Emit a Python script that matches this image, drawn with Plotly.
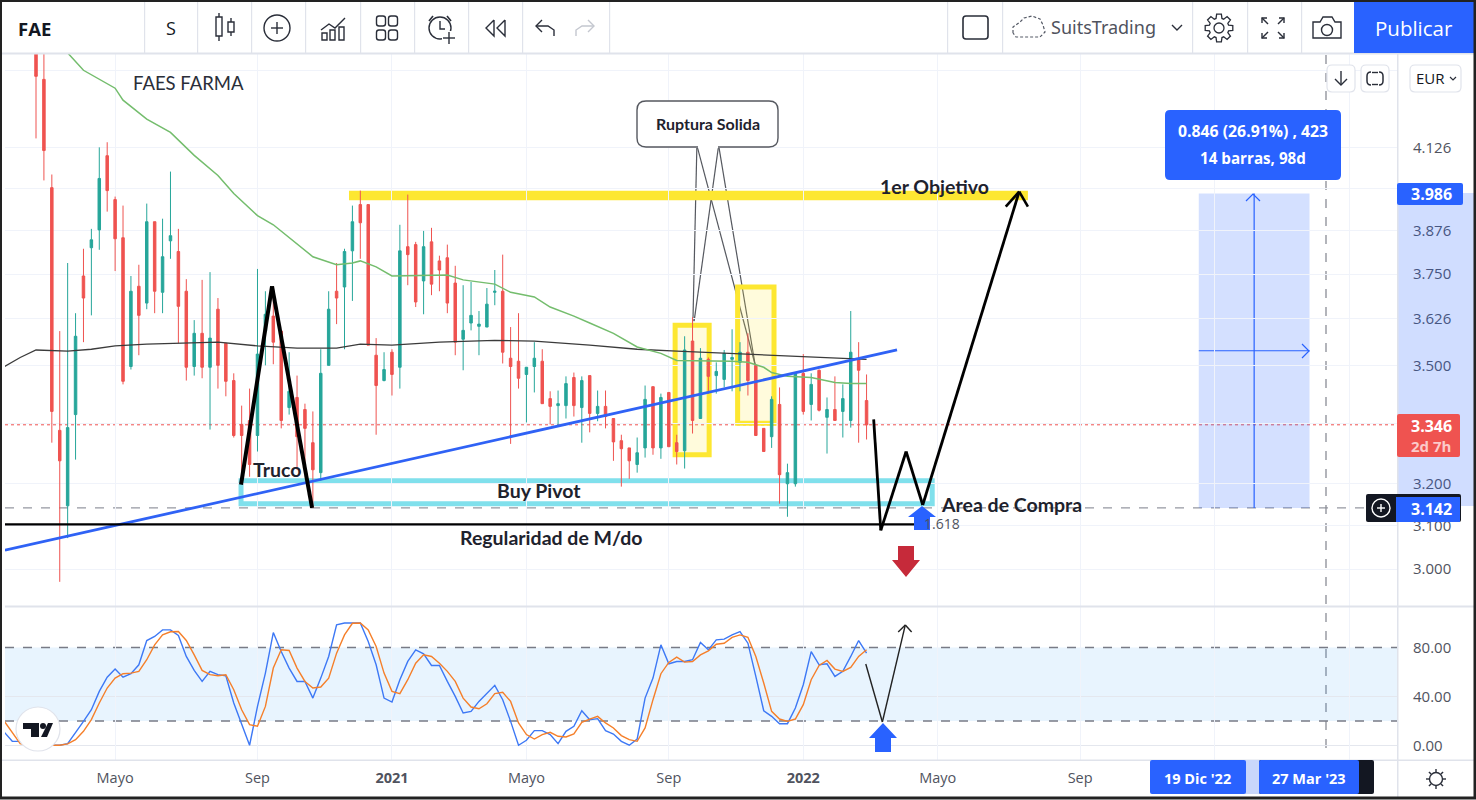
import math
import pandas as pd
import plotly.graph_objects as go

W, H = 1476, 800

# ---------- weekly price data (EUR), first bar 2020-02-24 ----------
FIRST_BAR = "2020-02-24"
opens = [4.60,4.346,4.004,3.332,3.147,3.372,3.745,3.826,3.878,4.102,
 3.968,3.855,3.497,3.716,3.669,3.902,3.699,3.846,3.815,3.702,
 3.497,3.586,3.495,3.652,3.559,3.460,3.347,3.357,3.319,3.592,
 3.633,3.592,3.390,3.416,3.385,3.301,3.227,3.500,3.702,3.714,
 3.817,3.953,3.953,3.527,3.460,3.535,3.495,3.829,3.835,3.731,
 3.843,3.788,3.797,3.725,3.570,3.614,3.605,3.603,3.699,3.702,
 3.519,3.511,3.476,3.497,3.511,3.413,3.395,3.395,3.468,3.390,
 3.473,3.375,3.393,3.362,3.306,3.288,3.247,3.288,3.444,3.288,
 3.429,3.301,3.281,3.565,3.362,3.516,3.473,3.463,3.516,3.508,
 3.535,3.500,3.337,3.316,3.398,3.200,3.200,3.479,3.398,3.487,
 3.365,3.385,3.380,3.357,3.516,3.408]
highs = [4.70,4.60,4.044,3.592,3.782,3.641,3.823,3.881,4.128,4.144,
 3.977,3.950,3.745,3.777,3.956,3.902,3.911,4.053,3.881,3.736,
 3.622,3.734,3.756,3.683,3.559,3.479,3.395,3.439,3.765,3.702,
 3.705,3.592,3.535,3.473,3.400,3.380,3.543,3.702,3.782,3.823,
 3.950,3.995,3.953,3.573,3.535,3.543,3.893,3.983,3.843,3.875,
 3.884,3.803,3.835,3.774,3.719,3.728,3.647,3.711,3.762,3.806,
 3.603,3.641,3.495,3.562,3.543,3.432,3.434,3.471,3.481,3.471,
 3.473,3.434,3.434,3.362,3.321,3.288,3.314,3.447,3.444,3.426,
 3.429,3.321,3.578,3.630,3.546,3.521,3.508,3.541,3.597,3.562,
 3.586,3.503,3.337,3.419,3.442,3.249,3.479,3.530,3.479,3.489,
 3.416,3.471,3.450,3.647,3.562,3.476]
lows = [4.156,4.026,3.301,2.971,3.071,3.259,3.562,3.635,3.820,3.932,
 3.759,3.450,3.489,3.527,3.652,3.641,3.641,3.794,3.559,3.460,
 3.473,3.466,3.334,3.439,3.419,3.314,3.209,3.217,3.279,3.500,
 3.503,3.337,3.372,3.234,3.242,3.142,3.207,3.500,3.611,3.543,
 3.675,3.794,3.554,3.321,3.458,3.421,3.439,3.719,3.658,3.638,
 3.691,3.702,3.641,3.527,3.487,3.594,3.527,3.603,3.663,3.505,
 3.298,3.439,3.352,3.429,3.400,3.347,3.342,3.362,3.367,3.301,
 3.327,3.355,3.337,3.256,3.193,3.212,3.227,3.264,3.271,3.261,
 3.291,3.247,3.237,3.324,3.362,3.426,3.426,3.442,3.432,3.432,
 3.421,3.319,3.279,3.288,3.152,3.121,3.193,3.372,3.357,3.380,
 3.274,3.357,3.314,3.339,3.301,3.309]
closes = [4.356,4.118,3.380,3.256,3.339,3.578,3.683,3.849,4.032,3.995,
 3.852,3.458,3.702,3.635,3.902,3.702,3.800,3.861,3.660,3.495,
 3.586,3.495,3.573,3.500,3.458,3.319,3.319,3.247,3.530,3.638,
 3.562,3.357,3.432,3.316,3.337,3.234,3.479,3.652,3.683,3.815,
 3.902,3.899,3.554,3.447,3.489,3.476,3.817,3.806,3.672,3.829,
 3.722,3.762,3.669,3.562,3.594,3.635,3.611,3.666,3.702,3.535,
 3.497,3.466,3.495,3.519,3.400,3.393,3.400,3.452,3.395,3.460,
 3.375,3.393,3.367,3.303,3.286,3.256,3.276,3.411,3.288,3.416,
 3.291,3.279,3.541,3.357,3.519,3.471,3.484,3.532,3.521,3.535,
 3.460,3.319,3.279,3.411,3.222,3.227,3.479,3.380,3.450,3.383,
 3.385,3.357,3.413,3.535,3.487,3.346]

# slower moving average (black): bar number, price
long_ma_bars = [-4,-2,0,4,7,10,14,18,23,28,33,38,41,45,51,58,63,70,76,81,93,99,105]
long_ma = [3.497,3.521,3.541,3.538,3.543,3.552,3.557,3.559,3.562,3.552,3.546,3.546,3.557,3.554,
           3.562,3.567,3.565,3.554,3.543,3.538,3.527,3.521,3.516]
# faster moving average (green)
mid_ma_bars = [4,6,10,11,14,17,20,23,25,28,30,33,35,38,40,41,43,45,52,54,57,58,60,63,65,68,70,73,
               76,77,79,81,83,88,90,92,93,95,98,101,103,105]
mid_ma = [4.434,4.376,4.317,4.278,4.217,4.175,4.103,4.041,3.986,3.920,3.893,3.838,3.800,3.777,
          3.782,3.788,3.771,3.745,3.748,3.734,3.725,3.722,3.699,3.686,3.658,3.633,3.614,3.586,
          3.549,3.543,3.532,3.513,3.513,3.511,3.508,3.495,3.481,3.471,3.468,3.455,3.452,3.452]

# stochastic, weekly, starts 4 bars before the first visible candle
STOCH_FIRST_BAR = -4
stoch_k = [10.8,3.4,3.4,0.2,0.2,0.2,0.2,0.2,1.5,10.2,19.7,29.2,44.2,55.8,62.4,55.8,58.6,65.9,85.7,89.0,
 94.4,94.4,89.8,72.7,61.3,52.3,60.5,57.8,56.9,34.7,17.0,0.2,31.9,59.1,92.2,76.7,63.2,52.3,52.3,38.7,
 55.0,72.7,98.5,100,100,100,84.9,65.9,38.7,35.5,53.7,68.6,78.1,74.8,65.3,65.3,52.3,40.1,26.5,27.9,
 36.0,42.8,49.1,37.4,19.7,0.2,4.3,12.1,12.1,8.9,1.5,11.6,15.7,28.4,21.1,21.9,12.1,9.4,3.4,0.2,
 5.3,38.7,55.0,82.2,66.7,68.6,68.6,70.0,84.1,78.1,86.2,86.8,90.3,93.0,83.5,56.4,28.4,23.8,17.8,17.8,
 30.6,49.6,76.7,65.9,66.7,56.4,60.5,72.7,85.7,75.4]
stoch_d = [19.7,10.2,1.5,0.2,0.2,0.2,0.2,0.2,1.3,4.8,11.6,21.1,34.7,46.9,55.0,58.6,59.1,60.5,70.0,82.2,
 90.3,92.8,93.0,85.7,74.0,61.3,57.8,56.9,57.8,45.5,29.2,17.0,15.7,31.9,63.2,78.1,77.6,63.2,52.3,46.9,
 47.7,55.0,75.4,90.3,99.8,100,94.4,80.8,59.1,44.2,42.3,53.7,67.2,74.0,72.7,67.2,60.5,52.3,38.7,31.4,
 30.0,34.1,42.3,43.4,36.0,18.4,8.9,5.3,8.9,10.8,7.5,7.0,9.4,18.9,21.6,23.8,18.4,14.3,8.1,4.8,
 3.4,14.3,37.4,58.6,67.8,72.1,68.1,68.6,74.0,77.3,82.7,83.5,88.2,90.3,88.4,72.7,51.0,27.9,21.6,19.7,
 21.6,33.3,53.7,65.3,69.4,62.4,60.5,63.7,72.7,78.1]

# axis ticks
time_ticks = ["2020-05-04","2020-09-07","2021-01-04","2021-05-03","2021-09-06","2022-01-03",
              "2022-05-02","2022-09-05","2023-01-02","2023-05-01"]
time_labels = ["Mayo","Sep","<b>2021</b>","Mayo","Sep","<b>2022</b>","Mayo","Sep","",""]
price_ticks = [3.0,3.1,3.2,3.35,3.5,3.626,3.75,3.876,4.0,4.126,4.376]
price_labels = ["3.000","3.100","3.200","","3.500","3.626","3.750","3.876","","4.126",""]
stoch_ticks = [0,40,80]
stoch_labels = ["0.00","40.00","80.00"]

# trader's drawings: (bar number, price)
last_price = 3.346
long_tool = dict(start=147, end=161, entry=3.142, target=3.986)
trend = [(-3.92,3.043),(108.85,3.541)]
objective = [(39.57,3.980),(125.4,3.980)]
support = [(-3.92,3.103),(111.1,3.103)]
pivot_box = [(25.92,3.207),(113.3,3.152)]
zig_left = [(25.92,3.198),(29.84,3.716),(34.9,3.142)]
zig_right = [(105.9,3.360),(106.8,3.089),(110.0,3.279),(112.1,3.149),(124.3,3.992)]
zig_head = [(122.6,3.947),(124.3,3.992),(125.4,3.947)]
box_one = [(80.8,3.608),(85.1,3.271)]
box_two = [(88.7,3.714),(93.3,3.350)]
callout_lines = [((83.55,4.134),(83.05,3.619)),((86.3,4.134),(83.2,3.619)),
                 ((83.55,4.134),(90.9,3.503)),((86.3,4.134),(90.9,3.503))]
stoch_path = [(104.9,66.5),(107.0,19.2),(109.9,98.4)]
stoch_head = [(109.0,92.6),(109.9,98.4),(110.7,92.6)]

# ---------- helpers ----------
def bar(i):
    return (pd.Timestamp(FIRST_BAR) + pd.Timedelta(days=7 * i)).isoformat()

def fx(x): return x / W
def fy(y): return 1 - y / H

shapes, notes = [], []

def seg(a, b, color, width, layer="above", dash=None, yref="y"):
    shapes.append(dict(type="line", xref="x", yref=yref, x0=bar(a[0]), y0=a[1], x1=bar(b[0]), y1=b[1],
                       line=dict(color=color, width=width, dash=dash), layer=layer))

def polyline(pts, color, width, layer="above", yref="y"):
    for a, b in zip(pts, pts[1:]):
        seg(a, b, color, width, layer, yref=yref)

def data_rect(c, color, width, fill, layer="below"):
    shapes.append(dict(type="rect", xref="x", yref="y", x0=bar(c[0][0]), y0=c[0][1], x1=bar(c[1][0]), y1=c[1][1],
                       line=dict(color=color, width=width), fillcolor=fill, layer=layer))

def rect(x0, y0, x1, y1, fill=None, line=None, width=1, layer="above"):
    shapes.append(dict(type="rect", xref="paper", yref="paper", x0=fx(x0), y0=fy(y0), x1=fx(x1), y1=fy(y1),
                       fillcolor=fill or "rgba(0,0,0,0)", line=dict(color=line or "rgba(0,0,0,0)", width=width if line else 0),
                       layer=layer))

def rrect(x0, y0, x1, y1, r, fill=None, line=None, width=1, layer="above"):
    pts = "M{},{} L{},{} Q{},{} {},{} L{},{} Q{},{} {},{} L{},{} Q{},{} {},{} L{},{} Q{},{} {},{} Z".format(
        fx(x0+r),fy(y0),fx(x1-r),fy(y0),fx(x1),fy(y0),fx(x1),fy(y0+r),fx(x1),fy(y1-r),fx(x1),fy(y1),fx(x1-r),fy(y1),
        fx(x0+r),fy(y1),fx(x0),fy(y1),fx(x0),fy(y1-r),fx(x0),fy(y0+r),fx(x0),fy(y0),fx(x0+r),fy(y0))
    shapes.append(dict(type="path", xref="paper", yref="paper", path=pts, fillcolor=fill or "rgba(0,0,0,0)",
                       line=dict(color=line or "rgba(0,0,0,0)", width=width if line else 0), layer=layer))

def path(pts, color=None, width=1.5, fill=None, close=False, dash=None):
    d = "M" + " L".join(f"{fx(x)},{fy(y)}" for x, y in pts) + (" Z" if close else "")
    shapes.append(dict(type="path", xref="paper", yref="paper", path=d, fillcolor=fill or "rgba(0,0,0,0)",
                       line=dict(color=color or "rgba(0,0,0,0)", width=width if color else 0, dash=dash)))

def circle(cx, cy, r, color=None, width=1.5, fill=None):
    shapes.append(dict(type="circle", xref="paper", yref="paper", x0=fx(cx-r), x1=fx(cx+r), y0=fy(cy-r), y1=fy(cy+r),
                       fillcolor=fill or "rgba(0,0,0,0)", line=dict(color=color or "rgba(0,0,0,0)", width=width if color else 0)))

def txt(x, y, s, size=14, color="#131722", anchor="center", font="Open Sans"):
    notes.append(dict(xref="paper", yref="paper", x=fx(x), y=fy(y), text=s, showarrow=False, xanchor=anchor,
                      yanchor="middle", font=dict(size=size, color=color, family=font), borderpad=0, borderwidth=0))

INK = "#2a2e39"
GRID = "#f0f3fa"
EDGE = "#e0e3eb"
BLUE = "#2962ff"
RED = "#ef5350"
TEAL = "#26a69a"
LABEL = "#50535e"

# ---------- traces ----------
dates = [bar(i) for i in range(len(closes))]
fig = go.Figure()
fig.add_trace(go.Candlestick(x=dates, open=opens, high=highs, low=lows, close=closes,
    increasing=dict(line=dict(color=TEAL, width=1), fillcolor=TEAL),
    decreasing=dict(line=dict(color=RED, width=1), fillcolor=RED),
    whiskerwidth=0, hoverinfo="skip", xaxis="x", yaxis="y"))
fig.add_trace(go.Scatter(x=[bar(i) for i in long_ma_bars], y=long_ma, mode="lines",
    line=dict(color="#3b3b3b", width=1.3), hoverinfo="skip", xaxis="x", yaxis="y"))
fig.add_trace(go.Scatter(x=[bar(i) for i in mid_ma_bars], y=mid_ma, mode="lines",
    line=dict(color="#74bd6d", width=1.5), hoverinfo="skip", xaxis="x", yaxis="y"))
stoch_dates = [bar(STOCH_FIRST_BAR + i) for i in range(len(stoch_k))]
fig.add_trace(go.Scatter(x=stoch_dates, y=stoch_k, mode="lines", line=dict(color="#3d78f5", width=1.4),
    hoverinfo="skip", xaxis="x2", yaxis="y2"))
fig.add_trace(go.Scatter(x=stoch_dates, y=stoch_d, mode="lines", line=dict(color="#f57f2a", width=1.4),
    hoverinfo="skip", xaxis="x2", yaxis="y2"))

# ---------- chart drawings ----------
# long-position tool
shapes.append(dict(type="rect", xref="x", yref="y", x0=bar(long_tool["start"]), x1=bar(long_tool["end"]),
                   y0=long_tool["entry"], y1=long_tool["target"], fillcolor="rgba(41,98,255,0.2)",
                   line=dict(width=0), layer="below"))
mid_x = (long_tool["start"] + long_tool["end"]) / 2
mid_y = math.sqrt(long_tool["entry"] * long_tool["target"])
seg((mid_x, long_tool["entry"]), (mid_x, long_tool["target"]), BLUE, 1.2, layer="below")
seg((long_tool["start"], mid_y), (long_tool["end"], mid_y), BLUE, 1.2, layer="below")
path([(1246,201),(1253,194),(1260,201)], BLUE, 1.2)
path([(1302,344),(1309,351),(1302,358)], BLUE, 1.2)
rect(1397, 193, 1475, 506, fill="rgba(41,98,255,0.22)")

# level lines
shapes.append(dict(type="line", xref="paper", yref="y", x0=fx(5), x1=fx(1397), y0=last_price, y1=last_price,
                   line=dict(color=RED, width=1, dash="dot"), layer="below"))
shapes.append(dict(type="line", xref="paper", yref="y", x0=fx(5), x1=fx(1397), y0=long_tool["entry"], y1=long_tool["entry"],
                   line=dict(color="#9598a1", width=1.3, dash="dash"), layer="below"))
shapes.append(dict(type="line", xref="paper", yref="paper", x0=fx(1326), x1=fx(1326), y0=fy(55), y1=fy(755),
                   line=dict(color="#8a8d96", width=1.3, dash="dash"), layer="below"))

# stochastic band and its grid (the grid sits beneath the dashed levels)
shapes.append(dict(type="rect", xref="paper", yref="y2", x0=fx(5), x1=fx(1397), y0=20, y1=80,
                   fillcolor="rgba(33,150,243,0.1)", line=dict(width=0), layer="below"))
for lvl in (0, 40):
    shapes.append(dict(type="line", xref="paper", yref="y2", x0=fx(5), x1=fx(1397), y0=lvl, y1=lvl,
                       line=dict(color="#e4e7ee", width=1.2), layer="below"))
for lvl in (20, 80):
    shapes.append(dict(type="line", xref="paper", yref="y2", x0=fx(5), x1=fx(1397), y0=lvl, y1=lvl,
                       line=dict(color="#787b86", width=1.3, dash="dash"), layer="below"))

# callout lines, then the yellow bar over them
for a, b in callout_lines:
    seg(a, b, "#55585f", 1.2, layer="below")
data_rect(box_one, "#fde731", 5, "rgba(255,235,59,0.18)")
data_rect(box_two, "#fde731", 5, "rgba(255,235,59,0.18)")
data_rect(pivot_box, "#80e0ec", 5, "rgba(0,0,0,0)")
seg(objective[0], objective[1], "#fde731", 9.5, layer="below")
seg(trend[0], trend[1], "#2f62f5", 2.8)
seg(support[0], support[1], "#000000", 2.4)
polyline(zig_left, "#000000", 4)
polyline(zig_right, "#000000", 2.8)
polyline(zig_head, "#000000", 2.6)
polyline(stoch_path, "#222222", 1.4, yref="y2")
polyline(stoch_head, "#222222", 1.4, yref="y2")

# big arrows
def up_arrow(cx, tip, wing, bottom):
    path([(cx,tip),(cx+14,wing),(cx+8,wing),(cx+8,bottom),(cx-8,bottom),(cx-8,wing),(cx-14,wing)], fill=BLUE, close=True)
up_arrow(922, 506, 517, 530)
up_arrow(883, 723, 738, 752)
path([(898,546),(914,546),(914,560),(920,560),(906,577),(892,560),(898,560)], fill="#c62a3a", close=True)

# callout box
rrect(637, 101, 778, 147, 9, fill="#ffffff", line="#55585f", width=1.4)
rect(698, 145.8, 718, 148.2, fill="#ffffff")
txt(708, 123, "<b>Ruptura Solida</b>", 16, "#1e222d", font="Lato")

# pane furniture
rect(0, 0, W, 53, fill="#ffffff")
rect(0, 52.5, W, 54.5, fill=EDGE)
rect(5, 605.5, 1474, 607.5, fill=EDGE)
rect(0, 759.5, 1474, 761, fill=EDGE)
rect(1397, 54, 1398.5, 798, fill=EDGE)

# date tags
rect(1245, 760, 1260, 794, fill="#c9d7fb")
rrect(1150, 760, 1246, 794, 2, fill=BLUE)
rrect(1259, 760, 1374, 794, 2, fill="#131722")
rrect(1259, 760, 1359, 794, 2, fill=BLUE)
txt(1197, 778, "<b>19 Dic '22</b>", 14.5, "#ffffff")
txt(1309, 778, "<b>27 Mar '23</b>", 14.5, "#ffffff")

# price tags
rrect(1397, 183, 1463, 205, 2, fill=BLUE)
txt(1431, 194, "<b>3.986</b>", 16, "#ffffff")
rrect(1397, 414, 1460, 457, 2, fill=RED)
txt(1431, 426, "<b>3.346</b>", 16, "#ffffff")
txt(1431, 446, "<b>2d 7h</b>", 15, "#fbcaca")
rrect(1366, 494, 1461, 522, 2, fill="#131722")
rect(1396, 497, 1460, 522, fill=BLUE)
txt(1431, 509, "<b>3.142</b>", 16, "#ffffff")
circle(1381, 508, 9, "#ffffff", 1.4)
path([(1377,508),(1385,508)], "#ffffff", 1.4)
path([(1381,504),(1381,512)], "#ffffff", 1.4)

# floating buttons
for x0, x1 in ((1327,1355),(1361,1389),(1410,1461)):
    rrect(x0, 65, x1, 92, 5, fill="#ffffff", line=EDGE, width=1.2)
path([(1341,71),(1341,85)], INK, 1.4)
path([(1335,79),(1341,85),(1347,79)], INK, 1.4)
rrect(1367, 72, 1383, 85, 4, line=INK, width=1.5)
rect(1371, 70, 1379, 74, fill="#ffffff")
rect(1371, 83, 1379, 87, fill="#ffffff")
path([(1372,72.5),(1378,72.5)], INK, 1.4)
path([(1372,84.5),(1378,84.5)], INK, 1.4)
txt(1416, 78, "EUR", 15, "#131722", anchor="left")
path([(1450,77),(1453,80),(1456,77)], INK, 1.2)

# TradingView badge
circle(38, 729, 22, EDGE, 1.2, "#ffffff")
path([(23,723),(39,723),(39,737),(31,737),(31,729),(23,729)], fill="#131722", close=True)
circle(43, 726, 3, fill="#131722")
path([(48,723),(53,723),(47,737),(41,737)], fill="#131722", close=True)

# ---------- toolbar ----------
for x in (144,197,251,305,360,414,468,522,609,947,1002,1192,1247,1301):
    rect(x, 2, x+1.2, 53, fill=EDGE)
rect(1354, 2, 1474, 53, fill=BLUE)
txt(1414, 28, "Publicar", 20.5, "#ffffff")
txt(34, 28, "<b>FAE</b>", 18.5, "#131722")
txt(171, 28, "S", 18, "#131722")
# candles
rect(216, 17, 222, 36, line=INK, width=1.4)
path([(219,13),(219,17)], INK, 1.4); path([(219,36),(219,41)], INK, 1.4)
rect(228, 22, 234, 32, line=INK, width=1.4)
path([(231,18),(231,22)], INK, 1.4); path([(231,32),(231,36)], INK, 1.4)
# add
circle(277, 28, 13, INK, 1.4)
path([(271,28),(283,28)], INK, 1.4); path([(277,22),(277,34)], INK, 1.4)
# indicators
path([(321,30),(329,24),(335,28),(345,18)], INK, 1.4)
rect(322, 33, 327, 40, line=INK, width=1.4)
rect(330, 30, 335, 40, line=INK, width=1.4)
rect(339, 27, 344, 40, line=INK, width=1.4)
# layouts
for cx in (381, 393):
    for cy in (21, 35):
        rrect(cx-4.5, cy-5, cx+4.5, cy+5, 2.5, line=INK, width=1.4)
# alarm
circle(440, 28, 11, INK, 1.4)
path([(440,21),(440,29),(445,29)], INK, 1.4)
path([(429,21),(433,16)], INK, 1.6); path([(447,16),(451,21)], INK, 1.6)
rect(442, 31, 456, 43, fill="#ffffff")
path([(443,38),(455,38)], INK, 1.4); path([(449,32),(449,44)], INK, 1.4)
# replay
path([(494,20),(486,28),(494,36),(494,20)], INK, 1.4)
path([(505,20),(497,28),(505,36),(505,20)], INK, 1.4)
# undo / redo
path([(542,20),(536,26),(542,32)], INK, 1.4)
path([(536,26),(548,26),(554,30),(554,36)], INK, 1.4)
path([(588,20),(594,26),(588,32)], "#c4c7cf", 1.4)
path([(594,26),(582,26),(576,30),(576,36)], "#c4c7cf", 1.4)
# drawing square, cloud
rrect(963, 16, 988, 39, 3, line=INK, width=1.6)
path([(1013,33),(1013,27),(1020,22),(1024,18),(1032,16),(1040,19),(1043,25),(1045,32),(1040,37),(1016,37),(1013,33)],
     "#555a66", 1.2, dash="3px,2px")
txt(1103, 27, "SuitsTrading", 18, LABEL, font="Noto Sans")
path([(1172,25),(1177,30),(1182,25)], INK, 1.4)
# gear
gear = []
for k in range(8):
    a = k * math.pi / 4
    for da, r in ((-0.3, 10), (-0.17, 14), (0.17, 14), (0.3, 10)):
        gear.append((1219 + r * math.cos(a + da), 28 + r * math.sin(a + da)))
path(gear, INK, 1.3, close=True)
circle(1219, 28, 5, INK, 1.3)
# fullscreen
for sx, sy in ((-1,-1),(1,-1),(-1,1),(1,1)):
    cx, cy = 1273 + sx * 11, 28 + sy * 10
    path([(cx, cy - sy * 5),(cx, cy),(cx - sx * 5, cy)], INK, 1.4)
    path([(cx, cy),(cx - sx * 6, cy - sy * 6)], INK, 1.4)
# camera
path([(1313,22),(1320,22),(1323,17),(1332,17),(1335,22),(1341,22),(1341,38),(1313,38)], INK, 1.4, close=True)
circle(1327, 30, 5.5, INK, 1.4)

# outer frame
rect(0.5, 0.5, 1475, 798, line="#222222", width=3)

# ---------- text labels ----------
txt(188, 83, "FAES FARMA", 18.5, "#2a2e39", font="Lato")
txt(934.5, 186, "<b>1er Objetivo</b>", 19.5, "#1e222d", font="Lato")
txt(277, 469, "<b>Truco</b>", 19.5, "#1e222d", font="Lato")
txt(539, 490, "<b>Buy Pivot</b>", 19.5, "#1e222d", font="Lato")
txt(1011.5, 504, "<b>Area de Compra</b>", 19.5, "#1e222d", font="Lato")
txt(550.5, 537, "<b>Regularidad de M/do</b>", 19.5, "#1e222d", font="Lato")
txt(960, 523, "1.618", 14, "#50535e", anchor="right")
rrect(1165, 110, 1341, 180, 5, fill=BLUE)
txt(1253, 131, "<b>0.846 (26.91%) , 423</b>", 15.8, "#ffffff")
txt(1253, 158, "<b>14 barras, 98d</b>", 15.2, "#ffffff")

# sun icon in the corner
circle(1436, 779, 6.5, INK, 1.4)
for k in range(8):
    a = k * math.pi / 4
    path([(1436 + 7 * math.cos(a), 779 + 7 * math.sin(a)), (1436 + 10 * math.cos(a), 779 + 10 * math.sin(a))], INK, 1.4)

# ---------- axes ----------
axis_range = [bar(-3.92), bar(172.06)]
fig.update_layout(
    width=W, height=H, margin=dict(l=0, r=0, t=0, b=0, pad=0),
    paper_bgcolor="#ffffff", plot_bgcolor="#ffffff", showlegend=False, boxgap=0.55,
    font=dict(family="Open Sans", size=14, color=LABEL),
    shapes=shapes, annotations=notes, hovermode=False,
    xaxis=dict(domain=[fx(5), fx(1397)], type="date", range=axis_range, anchor="y", rangeslider=dict(visible=False),
               tickvals=time_ticks, showticklabels=False, ticks="", showgrid=True, gridcolor=GRID, gridwidth=1.2, zeroline=False),
    yaxis=dict(domain=[fy(606), fy(54)], type="log", range=[0.46496, 0.64643], anchor="x", side="right",
               tickvals=price_ticks, ticktext=price_labels, showgrid=True, gridcolor=GRID, gridwidth=1.2,
               ticks="outside", ticklen=12, tickcolor="rgba(0,0,0,0)", zeroline=False, tickfont=dict(size=15, color=LABEL)),
    xaxis2=dict(domain=[fx(5), fx(1397)], type="date", range=axis_range, anchor="y2", matches="x",
                tickvals=time_ticks, ticktext=time_labels, showgrid=True, gridcolor=GRID, gridwidth=1.2,
                ticks="outside", ticklen=5, tickcolor="rgba(0,0,0,0)", tickangle=0, zeroline=False,
                tickfont=dict(size=14.5, color=LABEL)),
    yaxis2=dict(domain=[fy(760), fy(607)], range=[-11.84, 113.06], anchor="x2", side="right",
                tickvals=stoch_ticks, ticktext=stoch_labels, showgrid=False,
                ticks="outside", ticklen=12, tickcolor="rgba(0,0,0,0)", zeroline=False, tickfont=dict(size=15, color=LABEL)),
)

fig.write_html("out.html", config={"displayModeBar": False},
               post_script="document.body.style.margin='0';document.body.style.overflow='hidden';")
